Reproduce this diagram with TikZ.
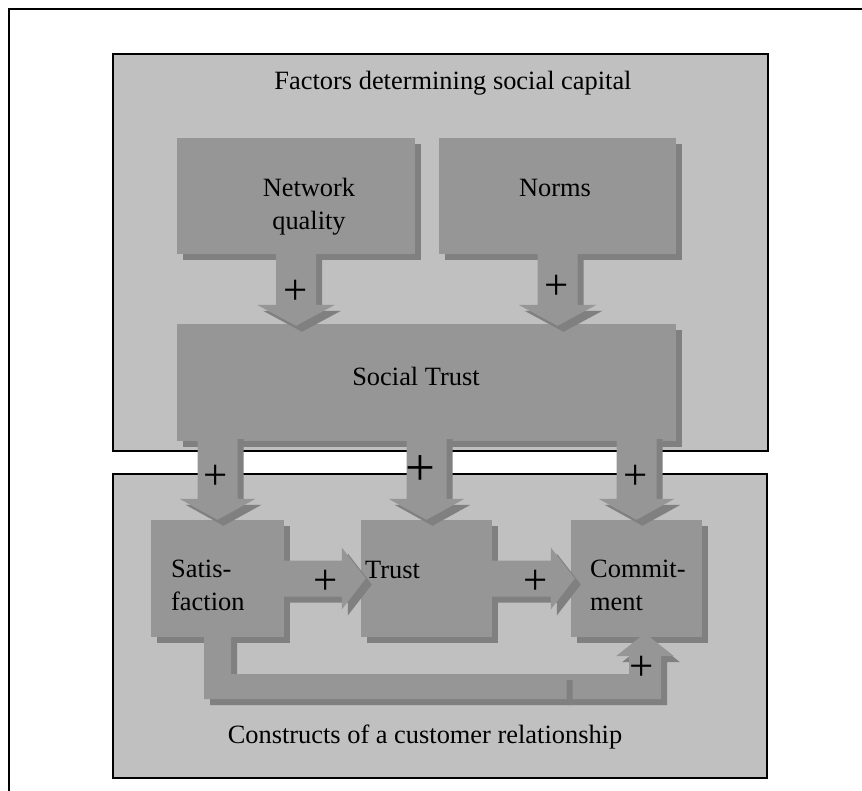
\documentclass[tikz,border=0pt]{standalone}
\usepackage{fontspec}
\setmainfont{Liberation Serif}
\usepackage{tikz}
\usetikzlibrary{calc, positioning, shadows}
\definecolor{panelgray}{RGB}{192,192,192}
\definecolor{boxgray}{RGB}{150,150,150}
\definecolor{shadowgray}{RGB}{128,128,128}
\tikzset{
	every node/.style={
		font=\fontsize{26.4}{33}\selectfont,
		inner sep=0pt
	},
	panel/.style={
		shape=rectangle,
		fill=panelgray,
		draw=black,
		line width=1.6pt
	},
	box/.style={
		shape=rectangle,
		fill=boxgray,
		drop shadow={shadow xshift=6pt, shadow yshift=-6pt, opacity=1, fill=shadowgray}
	},
	flow/.style={
		fill=boxgray,
		drop shadow={shadow xshift=6pt, shadow yshift=-6pt, opacity=1, fill=shadowgray}
	},
	sign/.style={
		font=\fontsize{43}{43}\selectfont
	}
}
% block arrows: start, tip, half shaft, half head
\newcommand{\arrowdown}[4]{%
	\fill[flow] let \p1=(#1), \p2=(#2) in
		(\x1-#3,\y1) -- (\x1+#3,\y1) -- (\x1+#3,\y2+21pt) -- (\x1+#4,\y2+21pt)
		-- (\x1,\y2) -- (\x1-#4,\y2+21pt) -- (\x1-#3,\y2+21pt) -- cycle;
}
\newcommand{\arrowright}[2]{%
	\fill[flow] let \p1=(#1), \p2=(#2) in
		(\x1,\y1+18pt) -- (\x2-24pt,\y1+18pt) -- (\x2-24pt,\y1+31pt) -- (\x2,\y1)
		-- (\x2-24pt,\y1-31pt) -- (\x2-24pt,\y1-18pt) -- (\x1,\y1-18pt) -- cycle;
}

\begin{document}
\begin{tikzpicture}[x=1pt,y=-1pt]
	\useasboundingbox (0,0) rectangle (862,791);
	
	\draw[line width=1.8pt] (9,791) -- (9,9) -- (862,9);
	
	\node[panel, minimum width=655pt, minimum height=397pt] (upper) at (440.5,252.5) {};
	\node[panel, minimum width=654pt, minimum height=304pt] (lower) at (440,626) {};
	
	\node[box, minimum width=238pt, minimum height=116pt] (nq) at (296,196) {};
	\node[box, minimum width=237pt, minimum height=116pt] (norms) at (557.5,196) {};
	\node[box, minimum width=499pt, minimum height=117pt] (st) at (426.5,382.5) {};
	\node[box, minimum width=133pt, minimum height=117pt] (sat) at (217.5,578.5) {};
	\node[box, minimum width=131pt, minimum height=117pt] (trust) at (426.5,578.5) {};
	\node[box, minimum width=131pt, minimum height=117pt] (com) at (636.5,578.5) {};
	
	\arrowdown{$(nq.south)+(0,-6)$}{$(nq.south |- st.north)+(0,2)$}{20pt}{39pt}
	\arrowdown{$(norms.south)+(0,-6)$}{$(norms.south |- st.north)+(0,2)$}{20pt}{39pt}
	\foreach \b in {sat, trust, com} {
		\arrowdown{$(\b.north |- st.south)+(0,-8)$}{\b.north}{20pt}{38pt}
	}
	\arrowright{sat.east}{$(trust.west)+(5,0)$}
	\arrowright{trust.east}{$(com.west)+(4,0)$}
	
	% feedback from satisfaction to commitment
	\fill[flow] let \p1=(sat.south), \p2=(com.south) in
		(\x2-76pt,\y1-62pt) -- (\x2+24.5pt,\y1-62pt) -- (\x2+24.5pt,\y2-19pt)
		-- (\x2+37.5pt,\y2-19pt) -- (\x2+8.5pt,\y2+4pt) -- (\x2-20.5pt,\y2-19pt)
		-- (\x2-7.5pt,\y2-19pt) -- (\x2-7.5pt,\y1-37pt) -- (\x2-76pt,\y1-37pt) -- cycle;
	\fill[flow] let \p1=(sat.south), \p2=(com.south) in
		(\x1-13.5pt,\y1+5pt) -- (\x1-13.5pt,\y1-62pt) -- (\x2-70pt,\y1-62pt)
		-- (\x2-70pt,\y1-37pt) -- (\x1+13.5pt,\y1-37pt) -- (\x1+13.5pt,\y1+5pt) -- cycle;
	
	\node[anchor=base] (capital) at (453,90) {Factors determining social capital};
	\node[align=center] (nqtext) at (309,207) {Network\\quality};
	\node[anchor=base] (normstext) at (555,197) {Norms};
	\node[anchor=base] (sttext) at (416,385) {Social Trust};
	\node[align=left, anchor=west] (sattext) at (171,585) {Satis-\\faction};
	\node[anchor=base west] (trusttext) at (365,578) {Trust};
	\node[align=left, anchor=west] (comtext) at (590,585) {Commit-\\ment};
	\node[anchor=base] (relation) at (425,743) {Constructs of a customer relationship};
	
	\def\signs{{%
			{296,292},
			{557,287},
			{216,477},
			{636,477},
			{326,582},
			{536,582},
			{642,668},
		}}
	
	\foreach \i in {0,...,6} {
		\pgfmathparse{\signs[\i][0]}\let \x \pgfmathresult;
		\pgfmathparse{\signs[\i][1]}\let \y \pgfmathresult;
		\node[sign] (p\i) at (\x,\y) {+};
	}
	\node[sign, font=\fontsize{53}{53}\selectfont] (pbig) at (420,471) {+};
	
\end{tikzpicture}
\end{document}
